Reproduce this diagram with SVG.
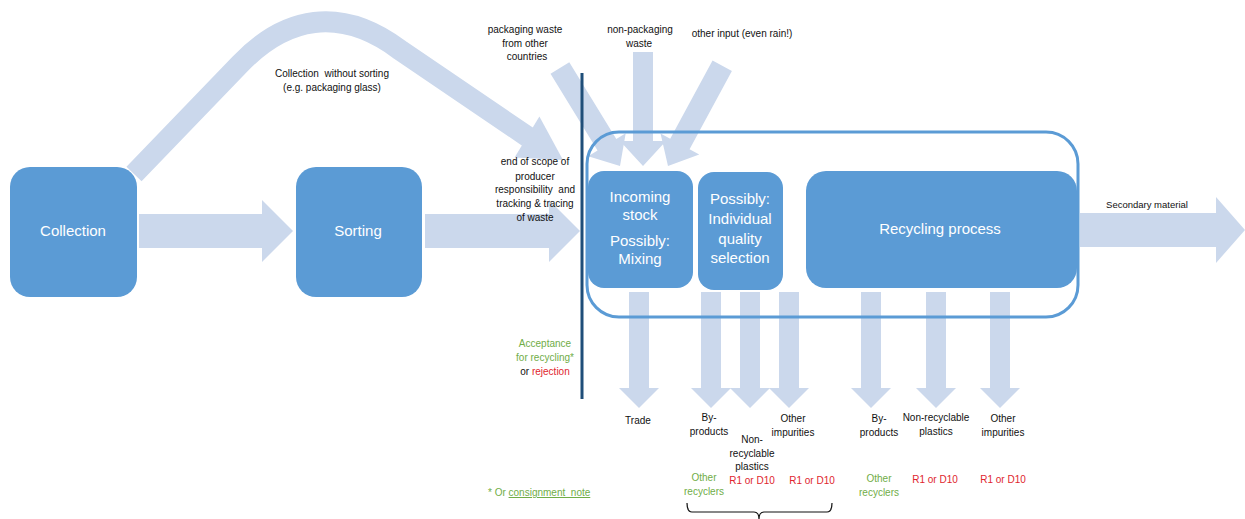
<svg xmlns="http://www.w3.org/2000/svg" width="1245" height="519" viewBox="0 0 1245 519">
<style>
.box{fill:#5B9BD5}
.bt{font-family:"Liberation Sans",Arial,sans-serif;font-size:15px;fill:#FFFFFF;text-anchor:middle}
.arr{fill:#CBD8EC}
.lbl{font-family:"Liberation Sans",Arial,sans-serif;font-size:10px;fill:#111;text-anchor:middle;white-space:pre}
.g{fill:#70AD47}
.r{fill:#E0262E}
</style>
<defs>
<polygon id="down" points="0,0 -20,-20 -10,-20 -10,-116 10,-116 10,-20 20,-20"/>
</defs>
<rect width="1245" height="519" fill="#FFFFFF"/>
<g id="connectors">
  <path d="M134 174 L240 64 C285 17 340 5 400 50 L528 137" fill="none" stroke="#CBD8EC" stroke-width="21" stroke-linejoin="round"/>
  <polygon class="arr" points="514.6,157.5 539.4,116.5 563,160"/>
  <polygon class="arr" points="0,0 -31,-31 -31,-17 -154,-17 -154,17 -31,17 -31,31" transform="translate(293,231)"/>
  <polygon class="arr" points="0,0 -31,-31 -31,-17 -155,-17 -155,17 -31,17 -31,31" transform="translate(580,231)"/>
  <polygon class="arr" points="0,0 -29,-33 -29,-17 -165,-17 -165,17 -29,17 -29,33" transform="translate(1245,230)"/>
  <polygon class="arr" points="0,0 -25,-22 -25,-11 -115,-11 -115,11 -25,11 -25,22" transform="translate(620,166) rotate(58.5)"/>
  <polygon class="arr" points="0,0 -25,-23 -25,-10 -114,-10 -114,10 -25,10 -25,23" transform="translate(643,166) rotate(90)"/>
  <polygon class="arr" points="0,0 -25,-22 -25,-11 -114,-11 -114,11 -25,11 -25,22" transform="translate(668,166) rotate(118.4)"/>
  <use href="#down" class="arr" x="639" y="408"/>
  <use href="#down" class="arr" x="711" y="408"/>
  <use href="#down" class="arr" x="750" y="408"/>
  <use href="#down" class="arr" x="789" y="408"/>
  <use href="#down" class="arr" x="871" y="408"/>
  <use href="#down" class="arr" x="936" y="408"/>
  <use href="#down" class="arr" x="1000" y="408"/>
  <line x1="582" y1="73" x2="582" y2="399" stroke="#1F4E79" stroke-width="3"/>
  <path d="M687 503 Q687 512 692 512 L754 512 Q759 512 759 519 Q759 512 764 512 L827 512 Q832 512 832 503" fill="none" stroke="#111" stroke-width="1.2"/>
</g>
<g id="scope-frame">
  <rect x="587" y="132" width="491" height="185" rx="32" fill="none" stroke="#5B9BD5" stroke-width="3"/>
</g>
<g id="collection">
  <rect class="box" x="10" y="167" width="127" height="130" rx="20"/>
  <text class="bt" x="73" y="236">Collection</text>
</g>
<g id="sorting">
  <rect class="box" x="296" y="167" width="126" height="130" rx="20"/>
  <text class="bt" x="358" y="236">Sorting</text>
</g>
<g id="incoming">
  <rect class="box" x="588" y="171" width="105" height="117" rx="16"/>
  <text class="bt" x="640" y="202">Incoming</text>
  <text class="bt" x="640" y="220">stock</text>
  <text class="bt" x="640" y="246">Possibly:</text>
  <text class="bt" x="640" y="264">Mixing</text>
</g>
<g id="quality">
  <rect class="box" x="698" y="172" width="85" height="118" rx="16"/>
  <text class="bt" x="740" y="204">Possibly:</text>
  <text class="bt" x="740" y="224">Individual</text>
  <text class="bt" x="740" y="244">quality</text>
  <text class="bt" x="740" y="263">selection</text>
</g>
<g id="recycling">
  <rect class="box" x="806" y="171" width="271" height="117" rx="20"/>
  <text class="bt" x="940" y="234">Recycling process</text>
</g>
<g id="labels">
  <text class="lbl" x="332" y="77">Collection  without sorting</text>
  <text class="lbl" x="332" y="91">(e.g. packaging glass)</text>
  <text class="lbl" x="525" y="33">packaging waste</text>
  <text class="lbl" x="525" y="47">from other</text>
  <text class="lbl" x="527" y="60">countries</text>
  <text class="lbl" x="640" y="33">non-packaging</text>
  <text class="lbl" x="639" y="47">waste</text>
  <text class="lbl" x="742" y="37">other input (even rain!)</text>
  <text class="lbl" x="535" y="165">end of scope of</text>
  <text class="lbl" x="535" y="180">producer</text>
  <text class="lbl" x="535" y="193">responsibility  and</text>
  <text class="lbl" x="535" y="207">tracking &amp; tracing</text>
  <text class="lbl" x="535" y="221">of waste</text>
  <text class="lbl" x="1147" y="208" style="font-size:9.5px">Secondary material</text>
  <text class="lbl g" x="545" y="347">Acceptance</text>
  <text class="lbl g" x="545" y="361">for recycling*</text>
  <text class="lbl" x="545" y="375">or <tspan class="r">rejection</tspan></text>
  <text class="lbl g" x="488" y="496" style="text-anchor:start">* Or <tspan text-decoration="underline">consignment  note</tspan></text>
  <text class="lbl" x="638" y="424">Trade</text>
  <text class="lbl" x="709" y="421">By-</text>
  <text class="lbl" x="709" y="435">products</text>
  <text class="lbl" x="752" y="443">Non-</text>
  <text class="lbl" x="752" y="457">recyclable</text>
  <text class="lbl" x="752" y="470">plastics</text>
  <text class="lbl" x="793" y="422">Other</text>
  <text class="lbl" x="793" y="436">impurities</text>
  <text class="lbl g" x="704" y="481">Other</text>
  <text class="lbl g" x="704" y="495">recyclers</text>
  <text class="lbl r" x="752" y="484">R1 or D10</text>
  <text class="lbl r" x="812" y="484">R1 or D10</text>
  <text class="lbl" x="879" y="422">By-</text>
  <text class="lbl" x="879" y="436">products</text>
  <text class="lbl" x="936" y="421">Non-recyclable</text>
  <text class="lbl" x="936" y="435">plastics</text>
  <text class="lbl" x="1003" y="422">Other</text>
  <text class="lbl" x="1003" y="436">impurities</text>
  <text class="lbl g" x="879" y="482">Other</text>
  <text class="lbl g" x="879" y="496">recyclers</text>
  <text class="lbl r" x="935" y="483">R1 or D10</text>
  <text class="lbl r" x="1003" y="483">R1 or D10</text>
</g>
</svg>
